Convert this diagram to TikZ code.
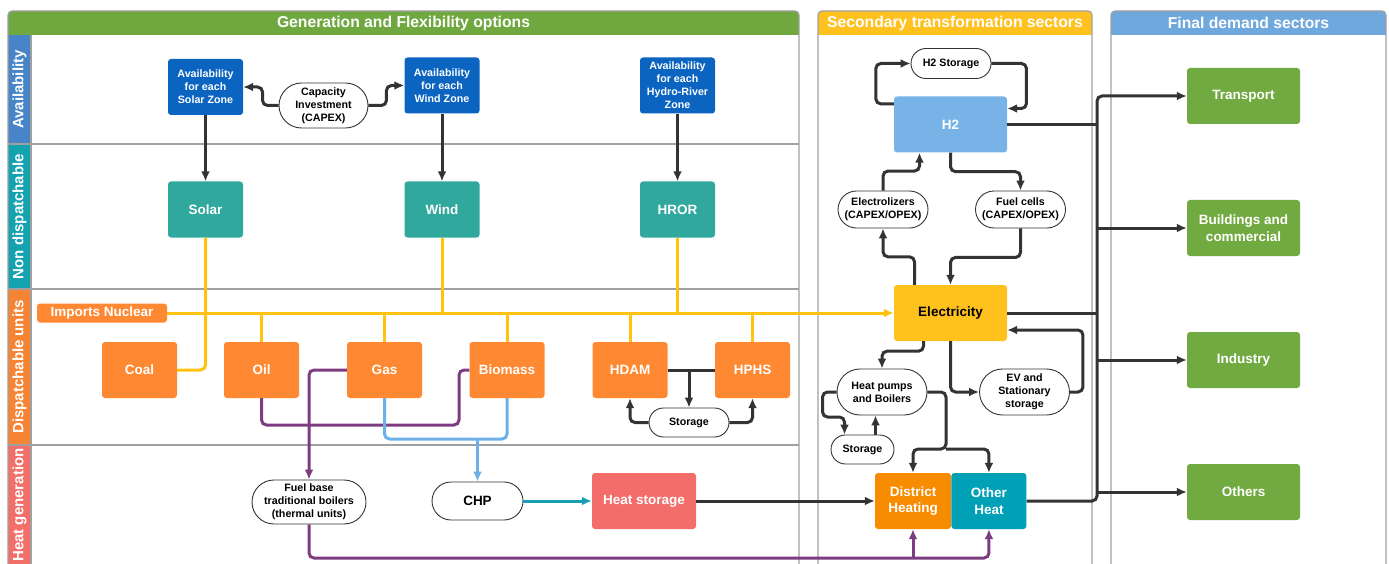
\documentclass[tikz,border=0pt]{standalone}
\usepackage{fontspec}
\setmainfont{Liberation Sans}
\usetikzlibrary{positioning, arrows, arrows.meta, shapes.misc}

\definecolor{gengreen}{HTML}{70A840}
\definecolor{secyellow}{HTML}{FFC11E}
\definecolor{finblue}{HTML}{6FA8DC}
\definecolor{availblue}{HTML}{0A64C0}
\definecolor{ndteal}{HTML}{30A89E}
\definecolor{disporange}{HTML}{FF8833}
\definecolor{heatred}{HTML}{F36E6B}
\definecolor{dhorange}{HTML}{F78C00}
\definecolor{ohteal}{HTML}{00A0B6}
\definecolor{h2blue}{HTML}{77B3E6}
\definecolor{demgreen}{HTML}{72AA42}
\definecolor{laneblue}{HTML}{4885C8}
\definecolor{laneteal}{HTML}{14A2AE}
\definecolor{laneorange}{HTML}{F58534}
\definecolor{lanered}{HTML}{F26E69}
\definecolor{yelline}{HTML}{FFC20E}
\definecolor{purpline}{HTML}{7D3C80}
\definecolor{blueline}{HTML}{6DB0E8}
\definecolor{tealline}{HTML}{159FB5}
\definecolor{darkline}{HTML}{333333}
\definecolor{panelgray}{HTML}{A0A0A0}

\newcommand{\headfont}{\fontsize{15.7}{18}\selectfont\bfseries}
\newcommand{\lanefont}{\fontsize{15}{18}\selectfont\bfseries}
\newcommand{\bigfont}{\fontsize{13.5}{16.7}\selectfont\bfseries}
\newcommand{\smallfont}{\fontsize{10.7}{13}\selectfont\bfseries}

\begin{document}
\begin{tikzpicture}[x=1pt, y=-1pt]
\tikzstyle{box}=[rectangle, rounded corners=3pt, text=white, align=center, inner sep=0pt, minimum width=75pt, minimum height=56pt, font=\bigfont]
\tikzstyle{avail}=[box, fill=availblue, font=\smallfont]
\tikzstyle{nondisp}=[box, fill=ndteal]
\tikzstyle{disp}=[box, fill=disporange]
\tikzstyle{sector}=[box, minimum width=113pt]
\tikzstyle{demand}=[box, fill=demgreen, minimum width=113pt]
\tikzstyle{oval}=[rounded rectangle, draw=darkline, line width=0.9pt, fill=white, align=center, inner sep=0pt, font=\smallfont]
\tikzstyle{header}=[text=white, font=\headfont]
\tikzstyle{lanelabel}=[text=white, rotate=90, font=\lanefont]
\tikzstyle{panel}=[draw=panelgray, line width=1.2pt]
\tikzstyle{tip}=[-{Latex[length=10pt, width=9pt]}]
\tikzstyle{plain}=[draw=darkline, line width=3pt, rounded corners=5pt]
\tikzstyle{connect}=[plain, tip]
\tikzstyle{yflow}=[draw=yelline, line width=3pt, rounded corners=5pt]
\tikzstyle{pflow}=[draw=purpline, line width=3pt, rounded corners=5pt]
\tikzstyle{bflow}=[draw=blueline, line width=3pt, rounded corners=5pt]

\useasboundingbox (0,0) rectangle (1389,564);

% 1. Panels and lanes
%%%%%%%%%%%%%%%%%%%%%
\fill[gengreen, rounded corners=4pt] (8,11) rectangle (799,35);
\fill[gengreen] (8,25) rectangle (799,35);
\fill[secyellow, rounded corners=4pt] (818,11) rectangle (1092,35);
\fill[secyellow] (818,25) rectangle (1092,35);
\fill[finblue, rounded corners=4pt] (1111,11) rectangle (1386,35);
\fill[finblue] (1111,25) rectangle (1386,35);
\node[header] (genhead) at (403.5,23) {Generation and Flexibility options};
\node[header] (sechead) at (955,23) {Secondary transformation sectors};
\node[header] (finhead) at (1248.5,23) {Final demand sectors};

\fill[laneblue] (8,35) rectangle (31,144);
\fill[laneteal] (8,144) rectangle (31,289);
\fill[laneorange] (8,289) rectangle (31,445);
\fill[lanered] (8,445) rectangle (31,570);
\node[lanelabel] (lavail) at (19.5,89.5) {Availability};
\node[lanelabel] (lnondisp) at (19.5,216.5) {Non dispatchable};
\node[lanelabel] (ldisp) at (19.5,367) {Dispatchable units};
\node[lanelabel] (lheat) at (19.5,505) {Heat generation};

\draw[panel] (8,144) -- (799,144);
\draw[panel] (8,289) -- (799,289);
\draw[panel] (8,445) -- (799,445);
\draw[panel] (31,35) -- (31,570);
\draw[panel, rounded corners=4pt] (8,570) -- (8,11) -- (799,11) -- (799,570);
\draw[panel, rounded corners=4pt] (818,570) -- (818,11) -- (1092,11) -- (1092,570);
\draw[panel, rounded corners=4pt] (1111,570) -- (1111,11) -- (1386,11) -- (1386,570);

% 2. Nodes
%%%%%%%%%%
\node[avail] (avsolar) at (205.5,87) {Availability\\for each\\Solar Zone};
\node[oval, minimum width=89pt, minimum height=45pt] (capex) at (323.5,105.5) {Capacity\\Investment\\(CAPEX)};
\node[avail] (avwind) at (442,85.5) {Availability\\for each\\Wind Zone};
\node[avail] (avhydro) at (677.5,85.5) {Availability\\for each\\Hydro-River\\Zone};

\node[nondisp] (solar) at (205.5,209.5) {Solar};
\node[nondisp] (wind) at (442,209.5) {Wind};
\node[nondisp] (hror) at (677.5,209.5) {HROR};

\node[disp, minimum width=130pt, minimum height=19pt] (nuc) at (102,313) {Imports Nuclear};
\node[disp] (coal) at (139.5,370) {Coal};
\node[disp] (oil) at (261.5,370) {Oil};
\node[disp] (gas) at (384.5,370) {Gas};
\node[disp] (bio) at (507,370) {Biomass};
\node[disp] (hdam) at (630,370) {HDAM};
\node[disp] (hphs) at (752.5,370) {HPHS};
\node[oval, minimum width=80pt, minimum height=29pt] (stor) at (689,422.5) {Storage};

\node[oval, minimum width=114pt, minimum height=44pt] (boiler) at (309,502) {Fuel base\\traditional boilers\\(thermal units)};
\node[oval, minimum width=91pt, minimum height=38pt, font=\bigfont] (chp) at (477.5,501) {CHP};
\node[box, fill=heatred, minimum width=104pt] (hstore) at (644,501) {Heat storage};

\node[oval, minimum width=80pt, minimum height=30pt] (h2store) at (951,63.5) {H2 Storage};
\node[sector, fill=h2blue] (h2) at (950.5,124.5) {H2};
\node[oval, minimum width=90pt, minimum height=37pt] (elz) at (883,209.5) {Electrolizers\\(CAPEX/OPEX)};
\node[oval, minimum width=90pt, minimum height=37pt] (fcell) at (1020.5,209.5) {Fuel cells\\(CAPEX/OPEX)};
\node[sector, fill=secyellow, text=black] (elec) at (950.5,313) {Electricity};
\node[oval, minimum width=90pt, minimum height=46pt] (hpump) at (882,392) {Heat pumps\\and Boilers};
\node[oval, minimum width=90pt, minimum height=46pt] (ev) at (1024.5,392) {EV and\\Stationary\\storage};
\node[oval, minimum width=63pt, minimum height=29pt] (hstor) at (862.5,449.5) {Storage};
\node[box, fill=dhorange, minimum width=76pt] (dh) at (913,501) {District\\Heating};
\node[box, fill=ohteal, right=0pt of dh] (oh) {Other\\Heat};

\node[demand] (transport) at (1243.5,96) {Transport};
\node[demand] (build) at (1243.5,228) {Buildings and\\commercial};
\node[demand] (industry) at (1243.5,360) {Industry};
\node[demand] (others) at (1243.5,492) {Others};

\coordinate (pjoin) at (459,425);
\coordinate (chpjoin) at (477.5,439);
\coordinate (heatbus) at (989,558);
\coordinate (hsplit) at (946,449);
\coordinate (bustop) at (1097,96);

% 3. Arrows
%%%%%%%%%%%
\draw[connect] (capex.west) -- ++(-16,0) |- (avsolar.east);
\draw[connect] (capex.east) -- ++(18,0) |- (avwind.west);
\draw[connect] (avsolar) -- (solar);
\draw[connect] (avwind) -- (wind);
\draw[connect] (avhydro) -- (hror);

\draw[yflow] (solar.south) |- (coal.east);
\draw[yflow] (wind.south) -- (wind.south |- nuc.east);
\draw[yflow] (hror.south) -- (hror.south |- nuc.east);
\draw[yflow] (oil.north) -- (oil.north |- nuc.east);
\draw[yflow] (gas.north) -- (gas.north |- nuc.east);
\draw[yflow] (bio.north) -- (bio.north |- nuc.east);
\draw[yflow] (hdam.north) -- (hdam.north |- nuc.east);
\draw[yflow] (hphs.north) -- (hphs.north |- nuc.east);
\draw[yflow, tip] (nuc.east) -- (elec.west);

\draw[plain] (hdam.east) -- (hphs.west);
\draw[connect] (stor.north |- hdam.east) -- (stor.north);
\draw[connect] (stor.west) -| (hdam.south);
\draw[connect] (stor.east) -| (hphs.south);

\draw[pflow] (oil.south) |- (pjoin) |- (bio.west);
\draw[pflow, tip] (gas.west) -| (boiler.north);
\draw[pflow, tip] (boiler.south) |- (heatbus) -- (oh.south);
\draw[pflow, tip] (dh.south |- heatbus) -- (dh.south);

\draw[bflow] (gas.south) |- (chpjoin);
\draw[bflow] (bio.south) |- (chpjoin);
\draw[bflow, tip] (chpjoin) -- (chp.north);

\draw[draw=tealline, line width=3pt, tip] (chp.east) -- (hstore.west);
\draw[connect] (hstore.east) -- (dh.west);

\draw[connect] (h2.160) -- ++(-18,0) |- (h2store.west);
\draw[connect] (h2store.east) -- ++(35,0) |- ([yshift=16pt]h2.east);
\draw[connect] (h2.south) -- ++(0,19) -| (fcell.north);
\draw[connect] (elz.north) -- ++(0,-19.5) -| ([xshift=-31pt]h2.south);
\draw[connect] ([xshift=-36pt]elec.north) -- ++(0,-28) -| (elz.south);
\draw[connect] (fcell.south) -- ++(0,29) -| (elec.north);
\draw[connect] ([xshift=-27pt]elec.south) -- ++(0,10) -| (hpump.north);
\draw[connect] (elec.south) |- (ev.west);
\draw[connect] (ev.east) -- ++(13,0) |- ([yshift=-17pt]elec.east);
\draw[connect] (hpump.west) -- ++(-14,0) -- ++(0,25) -| ([xshift=-18pt]hstor.north);
\draw[connect] ([xshift=13pt]hstor.north) -- ([xshift=13pt]hstor.north |- hpump.south);
\draw[connect] (hpump.east) -| (hsplit) -| (dh.north);
\draw[connect] (hsplit) -| (oh.north);

\draw[connect] (oh.east) -| (bustop) -- (transport.west);
\draw[plain] (h2.east) -- (h2.east -| bustop);
\draw[plain] (elec.east) -- (elec.east -| bustop);
\draw[connect] (build.west -| bustop) -- (build.west);
\draw[connect] (industry.west -| bustop) -- (industry.west);
\draw[connect] (others.west -| bustop) -- (others.west);

\end{tikzpicture}
\end{document}
